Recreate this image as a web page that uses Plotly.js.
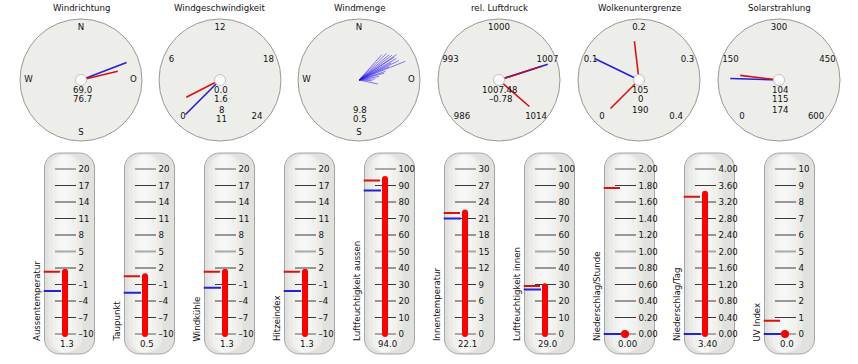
<!DOCTYPE html>
<html><head><meta charset="utf-8">
<script src="https://cdn.plot.ly/plotly-3.0.1.min.js"></script>
<style>html,body{margin:0;padding:0;background:#fff}#chart{width:858px;height:364px}</style>
</head><body><div id="chart"></div>
<script>
// ---------------- data ----------------
const dialTitles = ['Windrichtung','Windgeschwindigkeit','Windmenge','rel. Luftdruck','Wolkenuntergrenze','Solarstrahlung'];
const compassLabels = ['N','O','S','W'];
const compassAngles = [0,90,180,270];
const speedTicks = [0,6,12,18,24];
const pressureTicks = [986,993,1000,1007,1014];
const cloudTicks = [0,0.1,0.2,0.3,0.4];
const cloudTickText = ['0','0.1','0.2','0.3','0.4'];
const solarTicks = [0,150,300,450,600];

const windDirBlue = 69.0, windDirRed = 76.7;
const windSpeedBlue = 0.0, windSpeedRed = 1.6;
const windAmountDir   = [42,46,50,53,56,57,60,62,64,66,68,72,75,80,86,93,102];
const windAmountSpeed = [6.7,7.5,7.7,8.1,8.9,8.2,8.5,7.2,8.7,6.5,9.8,5.5,5.1,4.0,3.2,2.6,3.8];
const pressureBlue = 1007.48;
const pressureRed = [1007.48, 1013.6];
const cloudBlue = 0.105;
const cloudRed = [0.19, 0];
const solarBlue = 104, solarRed = 115;

const windDirText   = ['69.0','76.7'];
const windSpeedText = ['0.0','1.6','8','11'];
const windAmountText= ['','','9.8','0.5'];
const pressureText  = ['1007.48','\u20130.78'];
const cloudText     = ['105','0','190'];
const solarText     = ['104','115','174'];

const thermoLabels = ['Aussentemperatur','Taupunkt','Windkühle','Hitzeindex','Luftfeuchtigkeit aussen','Innentemperatur','Luftfeuchtigkeit innen','Niederschlag/Stunde','Niederschlag/Tag','UV Index'];
const thermoMin  = [-10,-10,-10,-10,0,0,0,0,0,0];
const thermoMax  = [20,20,20,20,100,30,100,2,4,10];
const thermoStep = [3,3,3,3,10,3,10,0.2,0.4,1];
const thermoDecimals = [0,0,0,0,0,0,0,2,2,0];
const thermoValue = [1.3,0.5,1.3,1.3,94.0,22.1,29.0,0.00,3.40,0.0];
const thermoRed   = [1.3,0.5,1.3,1.3,93.0,22.0,29.1,1.77,3.33,0.8];
const thermoBlue  = [-2.2,-2.5,-1.6,-2.2,87.0,21.0,26.9,0,0,0];
const thermoValueText = ['1.3','0.5','1.3','1.3','94.0','22.1','29.0','0.00','3.40','0.0'];

// ---------------- layout helpers ----------------
const W = 858, H = 364;
const FONT = 'DejaVu Sans', FS = 8.6;
const X = v => v / W, Y = v => 1 - v / H;
const RED = '#dd1010', BLUE = '#2222dd';

const dialCx = [81,220,359,499,639,779];
const dialCy = 80, dialR = 61;

const data = [];
const annotations = [];
const shapes = [];
const layout = {
  width: W, height: H, margin:{l:0,r:0,t:0,b:0},
  paper_bgcolor:'#ffffff', plot_bgcolor:'rgba(0,0,0,0)',
  showlegend:false, hovermode:false,
  font:{family:FONT, size:FS, color:'#111'}
};

function gaugeAngle(v, ticks){
  const a = ticks[0], b = ticks[ticks.length-1];
  return -135 + (v - a) / (b - a) * 270;
}
function subName(i){ return i === 0 ? 'polar' : 'polar' + (i+1); }
function needle(sub, theta, len, color){
  return {type:'scatterpolar', subplot:sub, r:[0,len], theta:[theta,theta], mode:'lines',
          line:{color:color, width:1.6}, hoverinfo:'skip'};
}
function labels(sub, thetas, texts, r){
  return {type:'scatterpolar', subplot:sub, r:thetas.map(()=>r), theta:thetas, text:texts,
          mode:'text', textfont:{family:FONT, size:FS, color:'#111'}, cliponaxis:false, hoverinfo:'skip'};
}
function hub(sub){
  return {type:'scatterpolar', subplot:sub, r:[0], theta:[0], mode:'markers',
          marker:{size:11, color:'#fbfbfb', line:{color:'#c4c4c4', width:1}}, hoverinfo:'skip'};
}

// dial subplots
dialCx.forEach((cx, i) => {
  const maxR = i === 2 ? 12 : 1;
  layout[subName(i)] = {
    domain:{x:[X(cx-dialR), X(cx+dialR)], y:[Y(dialCy+dialR), Y(dialCy-dialR)]},
    bgcolor:'#ededea',
    radialaxis:{visible:false, range:[0, maxR]},
    angularaxis:{rotation:90, direction:'clockwise', showticklabels:false, ticks:'',
                 showgrid:false, showline:true, linecolor:'#999999', linewidth:1}
  };
  annotations.push({xref:'paper', yref:'paper', x:X(cx), y:Y(8), text:dialTitles[i],
    showarrow:false, xanchor:'center', yanchor:'middle', font:{family:FONT,size:FS,color:'#111'}});
});

const LR = 0.86;
// Windrichtung
data.push(labels('polar', compassAngles, compassLabels, LR));
data.push(needle('polar', windDirBlue, 0.8, BLUE));
data.push(needle('polar', windDirRed, 0.62, RED));
data.push(hub('polar'));
// Windgeschwindigkeit
data.push(labels('polar2', speedTicks.map(v=>gaugeAngle(v,speedTicks)), speedTicks.map(String), LR));
data.push(needle('polar2', gaugeAngle(windSpeedBlue,speedTicks), 0.8, BLUE));
data.push(needle('polar2', gaugeAngle(windSpeedRed,speedTicks), 0.62, RED));
data.push(hub('polar2'));
// Windmenge
data.push(labels('polar3', compassAngles, compassLabels, LR*12));
windAmountDir.forEach((d, j) => {
  data.push({type:'scatterpolar', subplot:'polar3', r:[0, windAmountSpeed[j]], theta:[d,d], mode:'lines',
             line:{color:'rgba(40,20,240,0.55)', width:1}, hoverinfo:'skip'});
});
// Luftdruck
data.push(labels('polar4', pressureTicks.map(v=>gaugeAngle(v,pressureTicks)), pressureTicks.map(String), LR));
data.push(needle('polar4', gaugeAngle(pressureBlue,pressureTicks), 0.84, BLUE));
data.push(needle('polar4', gaugeAngle(pressureRed[0],pressureTicks), 0.72, '#b0103a'));
data.push(needle('polar4', gaugeAngle(pressureRed[1],pressureTicks), 0.66, RED));
data.push(hub('polar4'));
// Wolkenuntergrenze
data.push(labels('polar5', cloudTicks.map(v=>gaugeAngle(v,cloudTicks)), cloudTickText, LR));
data.push(needle('polar5', gaugeAngle(cloudBlue,cloudTicks), 0.8, BLUE));
data.push(needle('polar5', gaugeAngle(cloudRed[0],cloudTicks), 0.64, RED));
data.push(needle('polar5', gaugeAngle(cloudRed[1],cloudTicks), 0.66, RED));
data.push(hub('polar5'));
// Solarstrahlung
data.push(labels('polar6', solarTicks.map(v=>gaugeAngle(v,solarTicks)), solarTicks.map(String), LR));
data.push(needle('polar6', gaugeAngle(solarBlue,solarTicks), 0.8, BLUE));
data.push(needle('polar6', gaugeAngle(solarRed,solarTicks), 0.64, RED));
data.push(hub('polar6'));

// dial center texts
const dialTexts = [windDirText, windSpeedText, windAmountText, pressureText, cloudText, solarText];
dialTexts.forEach((arr, i) => {
  arr.forEach((t, j) => {
    if (!t) return;
    annotations.push({xref:'paper', yref:'paper', x:X(dialCx[i]+1), y:Y(89.5+10*j), text:t,
      showarrow:false, xanchor:'center', yanchor:'middle', font:{family:FONT,size:FS,color:'#111'}});
  });
});

// ---------------- thermometers ----------------
function roundRect(x0,y0,x1,y1,r){
  const k = 0.5523*r;
  const P = (x,y) => X(x)+','+Y(y);
  return 'M '+P(x0+r,y0)+' L '+P(x1-r,y0)+' C '+P(x1-r+k,y0)+' '+P(x1,y0+r-k)+' '+P(x1,y0+r)+
         ' L '+P(x1,y1-r)+' C '+P(x1,y1-r+k)+' '+P(x1-r+k,y1)+' '+P(x1-r,y1)+
         ' L '+P(x0+r,y1)+' C '+P(x0+r-k,y1)+' '+P(x0,y1-r+k)+' '+P(x0,y1-r)+
         ' L '+P(x0,y0+r)+' C '+P(x0,y0+r-k)+' '+P(x0+r-k,y0)+' '+P(x0+r,y0)+' Z';
}

const yTop = 169, yBot = 334, pad = 9;
thermoLabels.forEach((lab, k) => {
  const L = 44.5 + 80*k;
  const n = k+1;
  const xa = n === 1 ? 'xaxis' : 'xaxis'+n, ya = n === 1 ? 'yaxis' : 'yaxis'+n;
  const xr = n === 1 ? 'x' : 'x'+n, yr = n === 1 ? 'y' : 'y'+n;
  const mn = thermoMin[k], mx = thermoMax[k], st = thermoStep[k];
  const upp = (mx - mn) / (yBot - yTop);
  const ticks = [];
  for (let i = 0; mn + i*st <= mx + 1e-9; i++) ticks.push(+(mn + i*st).toFixed(4));
  const tickText = ticks.map(v => v.toFixed(thermoDecimals[k]).replace('-', '\u2013'));

  // panel with soft vertical sheen
  shapes.push({type:'path', xref:'paper', yref:'paper', path:roundRect(L,153,L+50,354,15),
    fillcolor:'#e1e1dd', line:{color:'#a5a5a5', width:1}, layer:'below'});
  [[4,38,15],[8,33,12],[12,28,8],[15,24,4.5]].forEach(s => {
    shapes.push({type:'path', xref:'paper', yref:'paper', path:roundRect(L+s[0],154.5,L+s[1],352.5,s[2]),
      fillcolor:'rgba(255,255,255,0.3)', line:{width:0}, layer:'below'});
  });

  layout[xa] = {domain:[X(L-1), X(L+32)], range:[-1,32], visible:false, fixedrange:true, anchor:yr};
  layout[ya] = {domain:[Y(yBot+pad), Y(yTop-pad)], range:[mn - pad*upp, mx + pad*upp],
    anchor:xr, side:'right', showgrid:false, zeroline:false, showline:false, ticks:'',
    tickmode:'array', tickvals:ticks, ticktext:tickText, ticklabelstandoff:1,
    tickfont:{family:FONT, size:FS, color:'#111'}, fixedrange:true};

  const light = [], dark = [];
  ticks.forEach((v, i) => { (i % 5 === 0 ? light : dark).push(v); });
  const seg = arr => ({x: arr.flatMap(() => [10.5, 31.5, null]), y: arr.flatMap(v => [v, v, null])});
  const sl = seg(light), sd = seg(dark);
  data.push({type:'scatter', xaxis:xr, yaxis:yr, x:sl.x, y:sl.y, mode:'lines', line:{color:'#a8a8a8', width:2}, hoverinfo:'skip'});
  data.push({type:'scatter', xaxis:xr, yaxis:yr, x:sd.x, y:sd.y, mode:'lines', line:{color:'#3a3a3a', width:1}, hoverinfo:'skip'});
  data.push({type:'scatter', xaxis:xr, yaxis:yr, x:[-1,15.5], y:[thermoRed[k],thermoRed[k]], mode:'lines', line:{color:RED, width:2}, hoverinfo:'skip'});
  data.push({type:'scatter', xaxis:xr, yaxis:yr, x:[-1,16.5], y:[thermoBlue[k],thermoBlue[k]], mode:'lines', line:{color:BLUE, width:2}, hoverinfo:'skip'});
  if (thermoValue[k] > mn) {
    data.push({type:'scatter', xaxis:xr, yaxis:yr, x:[20.5,20.5], y:[mn, thermoValue[k]], mode:'lines+markers',
      line:{color:'#ff0000', width:6}, marker:{color:'#ff0000', size:6}, cliponaxis:false, hoverinfo:'skip'});
  } else {
    data.push({type:'scatter', xaxis:xr, yaxis:yr, x:[20.5], y:[thermoValue[k]], mode:'markers',
      marker:{color:'#ff0000', size:8}, cliponaxis:false, hoverinfo:'skip'});
  }
  annotations.push({xref:'paper', yref:'paper', x:X(L+22.5), y:Y(344), text:thermoValueText[k],
    showarrow:false, xanchor:'center', yanchor:'middle', font:{family:FONT,size:FS,color:'#111'}});
  annotations.push({xref:'paper', yref:'paper', x:X(L-8), y:Y(343.5), text:lab, textangle:-90,
    showarrow:false, xanchor:'center', yanchor:'bottom', font:{family:FONT,size:FS,color:'#111'}});
});

layout.annotations = annotations;
layout.shapes = shapes;
Plotly.newPlot('chart', data, layout, {staticPlot:true, displayModeBar:false});
</script></body></html>
